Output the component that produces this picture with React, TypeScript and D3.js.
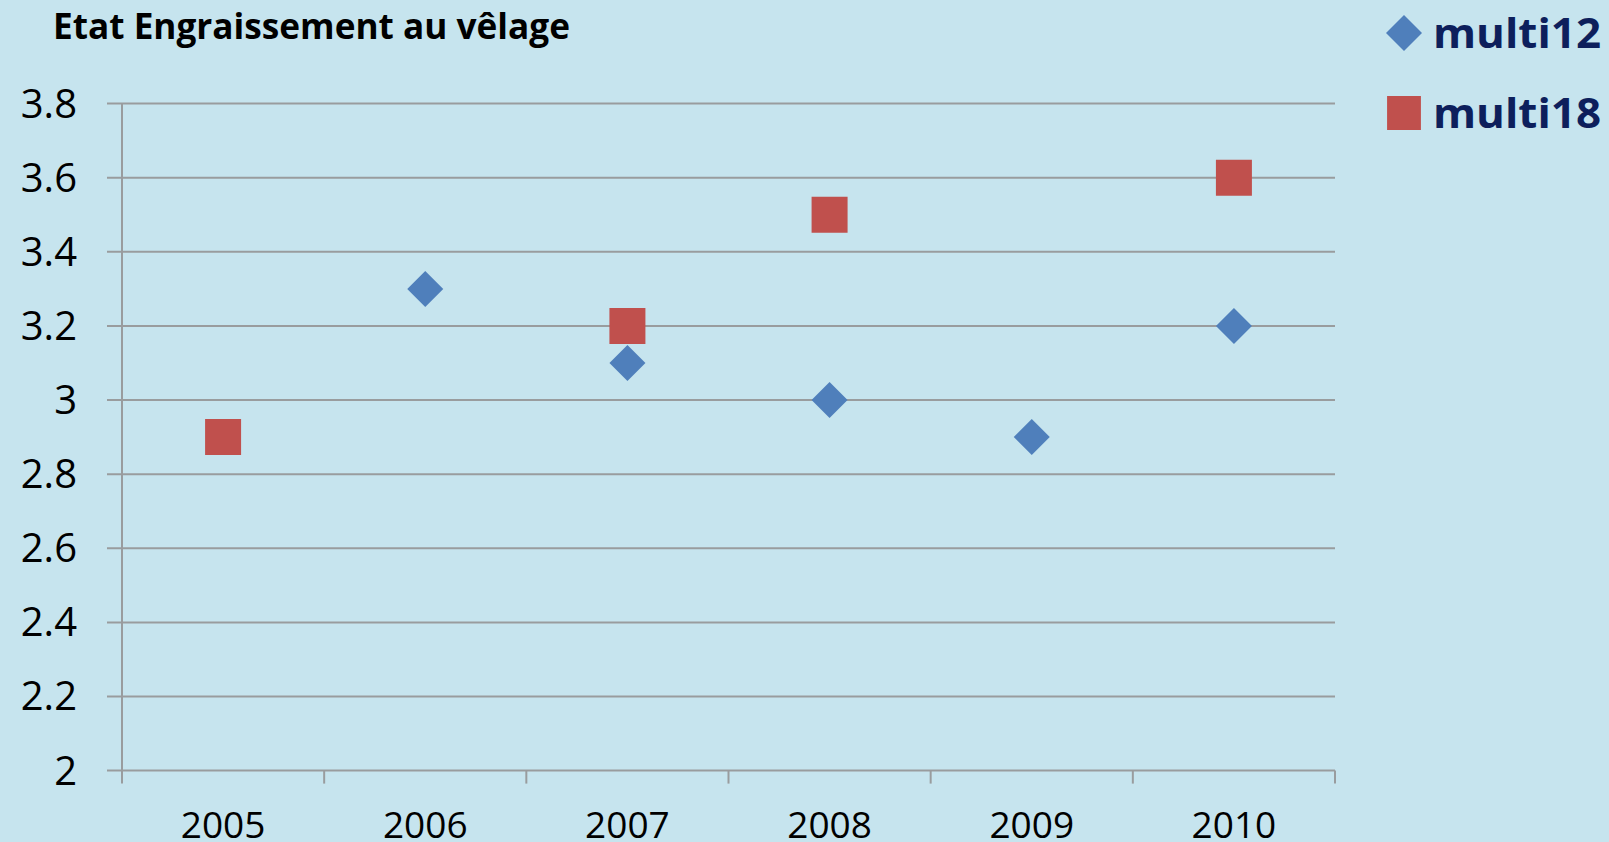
import React, { useEffect, useRef } from 'react';
import * as d3 from 'd3';

const years = ['2005', '2006', '2007', '2008', '2009', '2010'];
const yTicks = [2, 2.2, 2.4, 2.6, 2.8, 3, 3.2, 3.4, 3.6, 3.8];

// null = no value that year
const multi12: (number | null)[] = [null, 3.3, 3.1, 3.0, 2.9, 3.2];
const multi18: (number | null)[] = [2.9, null, 3.2, 3.5, null, 3.6];

const seriesNames = ['multi12', 'multi18'];

const App = () => {
  const chartRef = useRef<SVGSVGElement>(null);

  useEffect(() => {
    const svg = d3.select(chartRef.current);
    svg.selectAll('*').remove();

    const width = 1609;
    const height = 842;
    const font = "'Open Sans', 'DejaVu Sans', sans-serif";

    svg.append('rect')
      .attr('width', width)
      .attr('height', height)
      .attr('fill', '#c6e4ee');

    const x = d3.scaleBand().domain(years).range([122, 1335]);
    const y = d3.scaleLinear().domain([2, 3.8]).range([770.6, 103.6]);

    // gridlines + left tick stubs
    svg.append('g')
      .selectAll('line')
      .data(yTicks)
      .join('line')
      .attr('x1', 107)
      .attr('x2', 1335)
      .attr('y1', d => y(d))
      .attr('y2', d => y(d))
      .attr('stroke', '#999c9e')
      .attr('stroke-width', 2);

    // y axis line
    svg.append('line')
      .attr('x1', 122).attr('x2', 122)
      .attr('y1', y(3.8)).attr('y2', y(2) + 13)
      .attr('stroke', '#999c9e')
      .attr('stroke-width', 2);

    // x axis ticks at band boundaries
    const bounds = years.map(d => x(d)!).concat([x.range()[1]]);
    svg.append('g')
      .selectAll('line')
      .data(bounds.slice(1))
      .join('line')
      .attr('x1', d => d)
      .attr('x2', d => d)
      .attr('y1', y(2))
      .attr('y2', y(2) + 13)
      .attr('stroke', '#999c9e')
      .attr('stroke-width', 2);

    // y labels
    svg.append('g')
      .selectAll('text')
      .data(yTicks)
      .join('text')
      .attr('x', 77)
      .attr('y', d => y(d) + 14)
      .attr('text-anchor', 'end')
      .attr('font-family', font)
      .attr('font-size', 40)
      .attr('fill', '#000')
      .text(d => d3.format('~g')(d));

    // x labels (cut by the bottom edge, as in the original)
    svg.append('g')
      .selectAll('text')
      .data(years)
      .join('text')
      .attr('x', d => x(d)! + x.bandwidth() / 2)
      .attr('y', 838)
      .attr('text-anchor', 'middle')
      .attr('font-family', font)
      .attr('font-size', 37)
      .attr('fill', '#000')
      .text(d => d);

    // title
    svg.append('text')
      .attr('x', 53)
      .attr('y', 39)
      .attr('font-family', font)
      .attr('font-weight', 'bold')
      .attr('font-size', 36)
      .attr('textLength', 517)
      .attr('lengthAdjust', 'spacingAndGlyphs')
      .attr('fill', '#000')
      .text('Etat Engraissement au vêlage');

    const diamond = d3.symbol().type(d3.symbolSquare).size(648)();
    const square = d3.symbol().type(d3.symbolSquare).size(1296)();

    // multi12 diamonds
    svg.append('g')
      .selectAll('path')
      .data(years.map((yr, i) => ({ yr, v: multi12[i] })).filter(d => d.v !== null))
      .join('path')
      .attr('d', diamond)
      .attr('transform', d => `translate(${x(d.yr)! + x.bandwidth() / 2},${y(d.v as number)}) rotate(45)`)
      .attr('fill', '#4f7fbb');

    // multi18 squares
    svg.append('g')
      .selectAll('path')
      .data(years.map((yr, i) => ({ yr, v: multi18[i] })).filter(d => d.v !== null))
      .join('path')
      .attr('d', square)
      .attr('transform', d => `translate(${x(d.yr)! + x.bandwidth() / 2},${y(d.v as number)})`)
      .attr('fill', '#c0504d');

    // legend
    const legend = svg.append('g');
    seriesNames.forEach((name, i) => {
      const cy = 33 + i * 80;
      legend.append('path')
        .attr('d', i === 0 ? diamond : square)
        .attr('transform', i === 0 ? `translate(1404,${cy}) rotate(45)` : `translate(1404,${cy}) scale(0.94)`)
        .attr('fill', i === 0 ? '#4f7fbb' : '#c0504d');
      legend.append('text')
        .attr('x', 1433)
        .attr('y', cy + 15)
        .attr('font-family', font)
        .attr('font-weight', 'bold')
        .attr('font-size', 42)
        .attr('textLength', 168)
        .attr('lengthAdjust', 'spacingAndGlyphs')
        .attr('fill', '#0d1f5c')
        .text(name);
    });
  }, []);

  return (
    <svg
      ref={chartRef}
      width={1609}
      height={842}
      style={{ position: 'fixed', left: 0, top: 0, display: 'block' }}
    ></svg>
  );
};

export default App;
